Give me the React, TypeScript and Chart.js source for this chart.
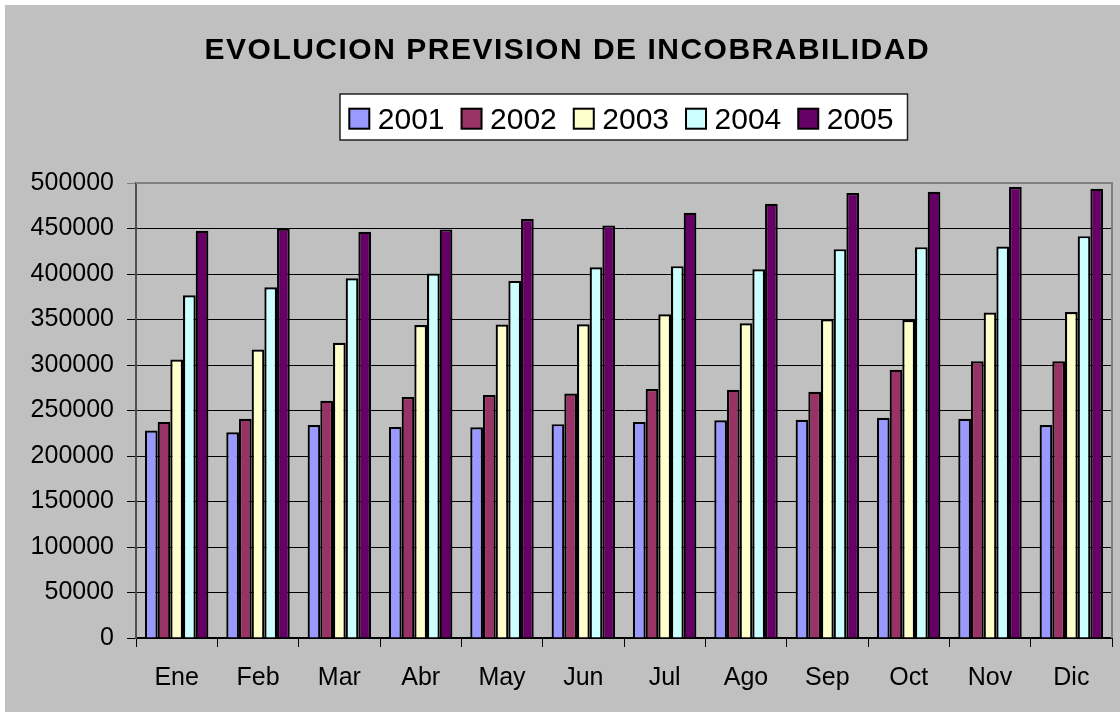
import React, { useEffect, useRef } from "react";
import { Chart, registerables } from "chart.js";

Chart.register(...registerables);

const TITLE = "EVOLUCION PREVISION DE INCOBRABILIDAD";
const months = ["Ene", "Feb", "Mar", "Abr", "May", "Jun", "Jul", "Ago", "Sep", "Oct", "Nov", "Dic"];
const years = ["2001", "2002", "2003", "2004", "2005"];

const v2001 = [228000, 226000, 234000, 232000, 231600, 235000, 237500, 239300, 239700, 242000, 240800, 234000];
const v2002 = [237500, 241000, 260600, 264700, 266900, 268700, 273500, 272800, 270600, 294800, 304000, 304000];
const v2003 = [306000, 317000, 324500, 344000, 344400, 344700, 355700, 345800, 350200, 349500, 357600, 358300];
const v2004 = [376600, 385400, 395400, 400500, 392400, 407500, 408600, 405300, 427300, 429500, 430300, 441600];
const v2005 = [447500, 450000, 446400, 449000, 460400, 453400, 467300, 477200, 489000, 490400, 495600, 493700];

const seriesValues = [v2001, v2002, v2003, v2004, v2005];
const seriesColors = ["#9999FF", "#993366", "#FFFFCC", "#CCFFFF", "#660066"];

const Y_MIN = 0;
const Y_MAX = 500000;
const Y_STEP = 50000;

const FONT = '"Liberation Sans", Arial, Helvetica, sans-serif';

const decorPlugin = {
  id: "decor",
  beforeDraw(chart: any) {
    const { ctx, width, height } = chart;
    ctx.save();
    ctx.fillStyle = "#C0C0C0";
    ctx.fillRect(0, 0, width, height);
    ctx.restore();
  },
  afterDraw(chart: any) {
    const { ctx } = chart;
    const { left, top, right, bottom } = chart.chartArea;
    ctx.save();
    // plot frame (top + right)
    ctx.strokeStyle = "#808080";
    ctx.lineWidth = 2;
    ctx.beginPath();
    ctx.moveTo(left, top);
    ctx.lineTo(right, top);
    ctx.lineTo(right, bottom);
    ctx.stroke();

    // title
    ctx.fillStyle = "#000";
    ctx.font = `bold 30px ${FONT}`;
    (ctx as any).letterSpacing = "1.5px";
    ctx.textAlign = "center";
    ctx.textBaseline = "alphabetic";
    ctx.fillText(TITLE, 562.3, 54);
    (ctx as any).letterSpacing = "0px";

    // legend
    const labels: string[] = chart.data.datasets.map((d: any) => d.label);
    const colors: string[] = chart.data.datasets.map((d: any) => d.backgroundColor);
    ctx.font = `30px ${FONT}`;
    const sq = 20;
    const gapText = 8.5;
    const gapItem = 17;
    const startX = 344.3;
    const baseY = 124.2;
    const sqTop = 103.7;
    const widths = labels.map((l) => ctx.measureText(l).width);
    let endX = startX;
    widths.forEach((w, i) => {
      endX += sq + gapText + w + (i < widths.length - 1 ? gapItem : 0);
    });
    const boxL = startX - 9.3;
    const boxR = endX + 14;
    ctx.fillStyle = "#FFFFFF";
    ctx.fillRect(boxL, 89, boxR - boxL, 46);
    ctx.strokeStyle = "#202020";
    ctx.lineWidth = 1.5;
    ctx.strokeRect(boxL, 89, boxR - boxL, 46);

    let x = startX;
    ctx.textAlign = "left";
    labels.forEach((l, i) => {
      ctx.fillStyle = colors[i];
      ctx.fillRect(x, sqTop, sq, sq);
      ctx.strokeStyle = "#000";
      ctx.lineWidth = 2;
      ctx.strokeRect(x, sqTop, sq, sq);
      ctx.fillStyle = "#000";
      ctx.fillText(l, x + sq + gapText, baseY);
      x += sq + gapText + widths[i] + gapItem;
    });
    ctx.restore();
  },
};

export default function App() {
  const ref = useRef<HTMLCanvasElement | null>(null);

  useEffect(() => {
    if (!ref.current) return;
    const chart = new Chart(ref.current, {
      type: "bar",
      data: {
        labels: months,
        datasets: years.map((y, i) => ({
          label: y,
          data: seriesValues[i],
          backgroundColor: seriesColors[i],
          borderColor: "#000000",
          borderWidth: 2.2,
          categoryPercentage: 0.78,
          barPercentage: 1.0,
        })),
      },
      options: {
        responsive: false,
        animation: false,
        layout: { padding: { top: 178, right: 8, left: 0, bottom: 0 } },
        plugins: {
          legend: { display: false },
          title: { display: false },
          tooltip: { enabled: false },
        },
        scales: {
          x: {
            grid: {
              offset: true,
              drawOnChartArea: false,
              drawTicks: true,
              tickLength: 9,
              color: "#000000",
              lineWidth: 1,
            },
            border: { display: true, color: "#000000", width: 2 },
            ticks: {
              color: "#000000",
              font: { family: FONT, size: 25 },
              padding: 16,
              maxRotation: 0,
              autoSkip: false,
            },
            afterFit(scale: any) {
              scale.height = 74;
            },
          },
          y: {
            min: Y_MIN,
            max: Y_MAX,
            grid: {
              color: (c: any) => (c.tick && c.tick.value === Y_MAX ? "#808080" : "#000000"),
              lineWidth: 1,
              tickLength: 9,
              drawTicks: true,
            },
            border: { display: true, color: "#505050", width: 2 },
            ticks: {
              stepSize: Y_STEP,
              color: "#000000",
              font: { family: FONT, size: 25 },
              padding: 13,
              callback: (v: any) => String(v),
            },
            afterFit(scale: any) {
              scale.width = 131;
            },
          },
        },
      },
      plugins: [decorPlugin],
    });
    return () => chart.destroy();
  }, []);

  return (
    <div style={{ position: "absolute", left: 5, top: 5, width: 1115, height: 707 }}>
      <canvas ref={ref} width={1115} height={707} style={{ width: 1115, height: 707, display: "block" }} />
    </div>
  );
}
